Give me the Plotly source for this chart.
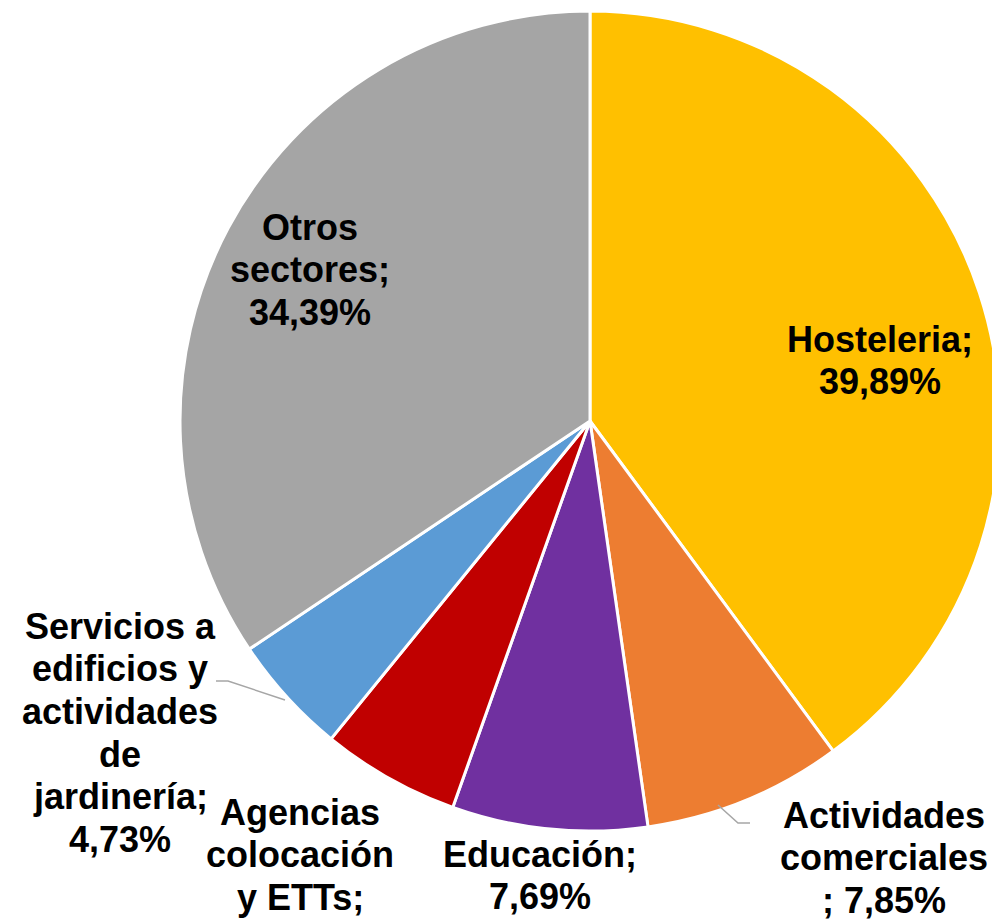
import plotly.graph_objects as go

# data
sectores = [
    "Hosteleria",
    "Actividades comerciales",
    "Educación",
    "Agencias colocación y ETTs",
    "Servicios a edificios y actividades de jardinería",
    "Otros sectores",
]
porcentajes = [39.89, 7.85, 7.69, 5.45, 4.73, 34.39]
colores = ["#FFC000", "#ED7D31", "#7030A0", "#C00000", "#5B9BD5", "#A5A5A5"]

# label lines as wrapped in the original (the value is appended as last line)
lineas_etiqueta = [
    ["Hosteleria;"],
    ["Actividades", "comerciales"],
    ["Educación;"],
    ["Agencias", "colocación", "y ETTs;"],
    ["Servicios a", "edificios y", "actividades", "de", "jardinería;"],
    ["Otros", "sectores;"],
]
prefijo_valor = ["", "; ", "", "", "", ""]
# centre x and first line y of each label, page pixels
pos_etiquetas = [(880, 339), (884, 815), (540, 854), (300, 812), (120, 626), (310, 227)]
interlineado = 42.7

# the pie runs past the right edge of the window in the original,
# so the figure is a bit wider than the 992px window and the page clips it
W, H = 1000, 922
cx, cy, r = 590, 421, 410


def px_to_paper(x, y):
    return x / W, 1 - y / H


x0, y1 = px_to_paper(cx - r, cy - r)
x1, y0 = px_to_paper(cx + r, cy + r)

fig = go.Figure(
    go.Pie(
        labels=sectores,
        values=porcentajes,
        marker=dict(colors=colores, line=dict(color="white", width=3)),
        sort=False,
        direction="clockwise",
        rotation=0,
        textinfo="none",
        hoverinfo="label+percent",
        domain=dict(x=[max(0, x0), min(1, x1)], y=[max(0, y0), min(1, y1)]),
        showlegend=False,
    )
)

fuente = dict(family="Liberation Sans, Arial", size=36, color="black", weight="bold")

for lineas, pre, valor, (x, y) in zip(lineas_etiqueta, prefijo_valor, porcentajes, pos_etiquetas):
    valor_txt = pre + f"{valor:.2f}%".replace(".", ",")
    todas = lineas + [valor_txt]
    for i, t in enumerate(todas):
        xp, yp = px_to_paper(x, y + i * interlineado)
        fig.add_annotation(
            x=xp, y=yp, xref="paper", yref="paper",
            text=t, showarrow=False,
            xanchor="center", yanchor="middle", align="center",
            font=fuente,
        )

# leader lines
guias = [
    [(216, 681), (228, 681), (285, 700)],
    [(718, 805), (738, 823), (750, 823)],
]
for pts in guias:
    ppts = [px_to_paper(x, y) for x, y in pts]
    path = "M " + " L ".join(f"{x},{y}" for x, y in ppts)
    fig.add_shape(type="path", path=path, xref="paper", yref="paper",
                  line=dict(color="#A6A6A6", width=1.5))

fig.update_layout(
    width=W, height=H,
    margin=dict(l=0, r=0, t=0, b=0),
    paper_bgcolor="white",
    plot_bgcolor="white",
)

fig.write_html(
    "out.html",
    config={"displayModeBar": False},
    post_script="document.body.style.margin='0';document.body.style.overflow='hidden';",
)
